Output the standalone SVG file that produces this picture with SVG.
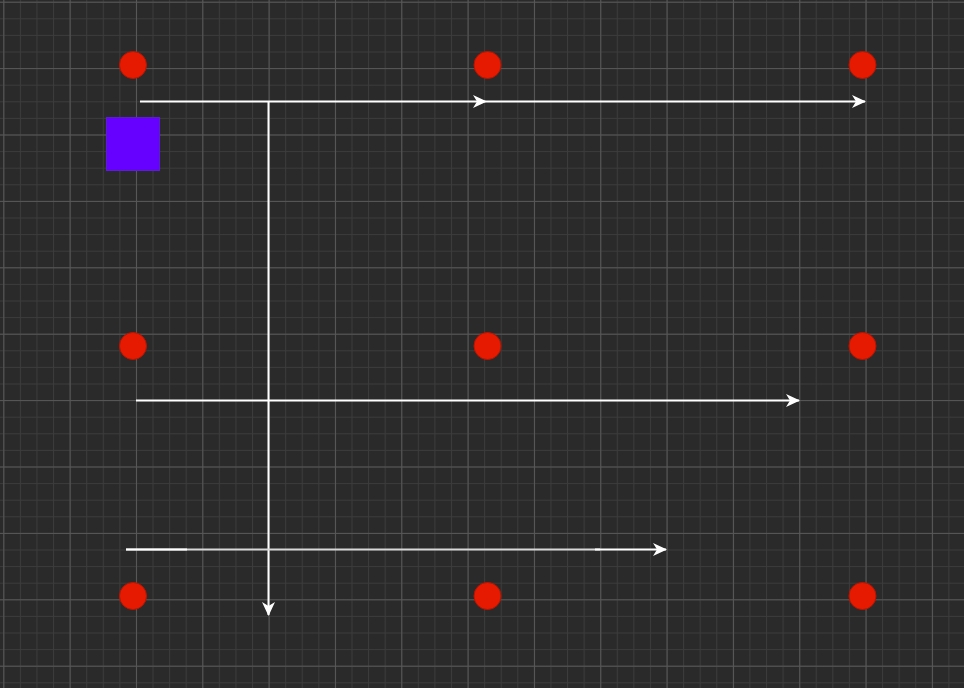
<svg xmlns="http://www.w3.org/2000/svg" width="964" height="688" viewBox="0 0 964 688">
<style>
.dot{fill:#e51a00;stroke:#b81400;stroke-width:1}
.wire{stroke:#ffffff;stroke-width:2;fill:none}
</style>
<defs>
<pattern id="minor" patternUnits="userSpaceOnUse" x="3.3" y="1.7" width="16.58" height="16.6">
<path d="M0.5 0V16.6M0 0.5H16.58" stroke="#3c3c3c" stroke-width="1" fill="none"/>
</pattern>
<pattern id="major" patternUnits="userSpaceOnUse" x="3.3" y="1.7" width="66.33" height="66.4">
<path d="M0.5 0V66.4M0 0.5H66.33" stroke="#585858" stroke-width="1" fill="none"/>
</pattern>
<marker id="arr" viewBox="0 0 14 14" refX="13" refY="7" markerWidth="14" markerHeight="14" markerUnits="userSpaceOnUse" orient="auto">
<path d="M0 0.5L14 7L0 13.5L4 7Z" fill="#ffffff"/>
</marker>
</defs>
<rect width="964" height="688" fill="#2a2a2a"/>
<rect width="964" height="688" fill="url(#minor)"/>
<rect width="964" height="688" fill="url(#major)"/>
<g id="connectors">
<line class="wire" x1="140" y1="101.5" x2="486" y2="101.5" marker-end="url(#arr)"/>
<line class="wire" x1="486" y1="101.5" x2="865" y2="101.5" marker-end="url(#arr)"/>
<line class="wire" x1="268.5" y1="101.5" x2="268.5" y2="615" marker-end="url(#arr)"/>
<line class="wire" x1="136" y1="400.5" x2="799" y2="400.5" marker-end="url(#arr)"/>
<line x1="126" y1="549.5" x2="600" y2="549.5" stroke="#d8d8d8" stroke-width="2"/>
<line class="wire" x1="126" y1="549.5" x2="187" y2="549.5"/>
<line class="wire" x1="595" y1="549.5" x2="666" y2="549.5" marker-end="url(#arr)"/>
</g>
<g id="n1"><circle class="dot" cx="133" cy="65" r="13.5"/></g>
<g id="n2"><circle class="dot" cx="487.5" cy="65" r="13.5"/></g>
<g id="n3"><circle class="dot" cx="862.5" cy="65" r="13.5"/></g>
<g id="n4"><circle class="dot" cx="133" cy="346" r="13.5"/></g>
<g id="n5"><circle class="dot" cx="487.5" cy="346" r="13.5"/></g>
<g id="n6"><circle class="dot" cx="862.5" cy="346" r="13.5"/></g>
<g id="n7"><circle class="dot" cx="133" cy="596" r="13.5"/></g>
<g id="n8"><circle class="dot" cx="487.5" cy="596" r="13.5"/></g>
<g id="n9"><circle class="dot" cx="862.5" cy="596" r="13.5"/></g>
<g id="box"><rect x="106.5" y="117.5" width="53" height="53" fill="#6600ff" stroke="#5a1fd0" stroke-width="1"/></g>
</svg>
